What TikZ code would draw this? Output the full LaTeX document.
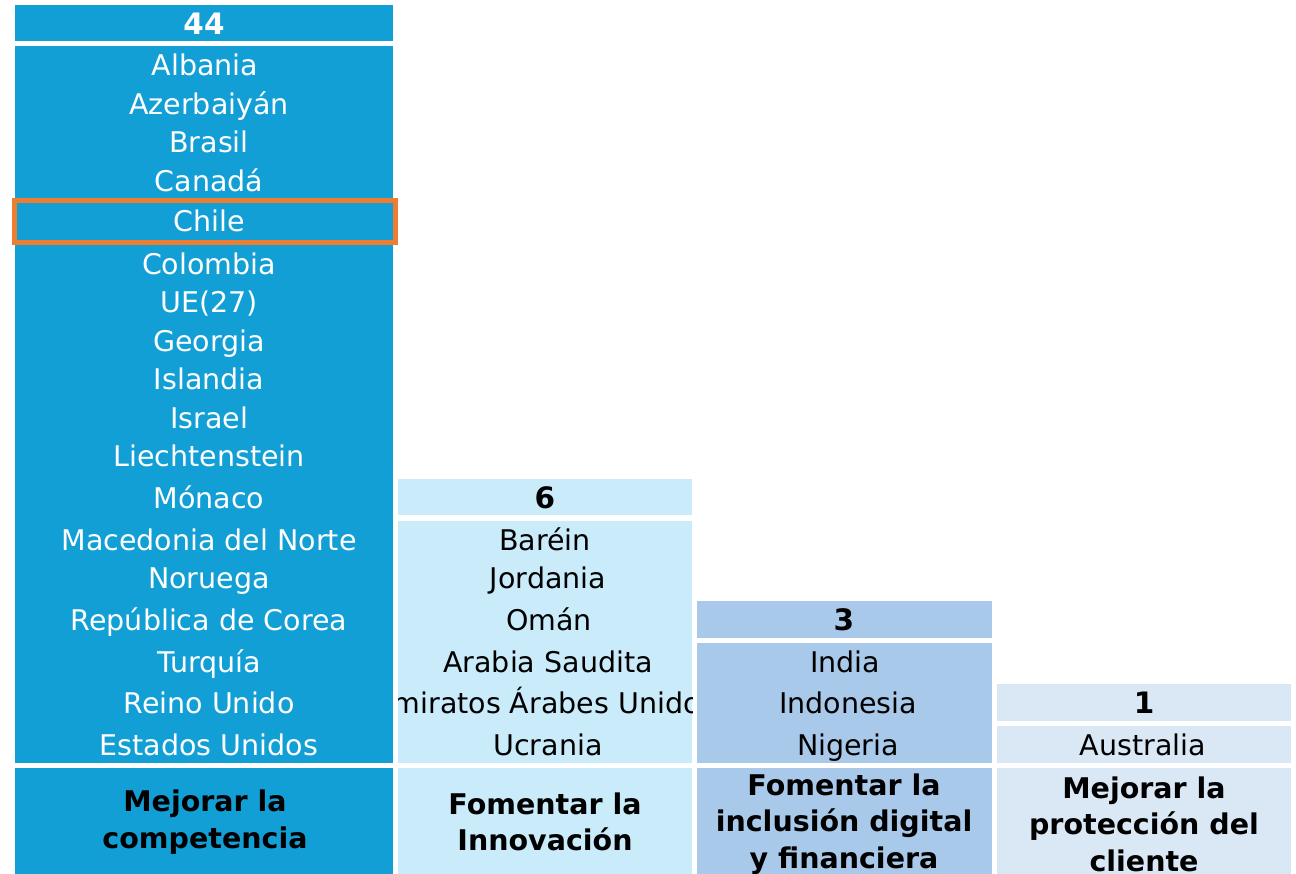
\documentclass[tikz,border=0pt]{standalone}
\usepackage{fontspec}
\setmainfont{DejaVu Sans}
\definecolor{cA}{RGB}{18,159,214}
\definecolor{cB}{RGB}{201,235,250}
\definecolor{cC}{RGB}{169,201,234}
\definecolor{cD}{RGB}{218,232,246}
\definecolor{cO}{RGB}{237,125,49}
\tikzset{
  lbl/.style={inner sep=0pt, font=\fontsize{28.5}{28.5}\selectfont, anchor=center},
  hdr/.style={inner sep=0pt, font=\fontsize{29.5}{29.5}\selectfont\bfseries, anchor=center},
  ttl/.style={inner sep=0pt, font=\fontsize{28.5}{36.5}\selectfont\bfseries, align=center, anchor=center}
}
\begin{document}
\begin{tikzpicture}[x=1pt,y=-1pt]
\useasboundingbox (0,0) rectangle (1296,873);
\clip (0,0) rectangle (1296,873);
% column 1
\fill[cA] (15,5) rectangle (393,41);
\fill[cA] (15,46) rectangle (393,763);
\fill[cA] (15,768) rectangle (393,880);
% column 2
\fill[cB] (398,479) rectangle (692,515);
\fill[cB] (398,521) rectangle (692,763);
\fill[cB] (398,768) rectangle (692,880);
% column 3
\fill[cC] (697,601) rectangle (992,638);
\fill[cC] (697,643) rectangle (992,763);
\fill[cC] (697,768) rectangle (992,880);
% column 4
\fill[cD] (997,684) rectangle (1291,721);
\fill[cD] (997,726) rectangle (1291,763);
\fill[cD] (997,768) rectangle (1291,880);

% headers
\node[hdr, text=white] (h1) at (204,24) {44};
\node[hdr] (h2) at (545,498) {6};
\node[hdr] (h3) at (844,620) {3};
\node[hdr] (h4) at (1144,703) {1};

% column 1 list
\begin{scope}[every node/.style={lbl, text=white}]
\node[anchor=base] (a1) at (205,75) {Albania};
\node[anchor=base] (a2) at (209,114) {Azerbaiyán};
\node[anchor=base] (a3) at (209,152) {Brasil};
\node[anchor=base] (a4) at (209,191) {Canadá};
\node[anchor=base] (a5) at (209,231) {Chile};
\node[anchor=base] (a6) at (209,274) {Colombia};
\node[anchor=base] (a7) at (209,312) {UE(27)};
\node[anchor=base] (a8) at (209,351) {Georgia};
\node[anchor=base] (a9) at (209,389) {Islandia};
\node[anchor=base] (a10) at (209,428) {Israel};
\node[anchor=base] (a11) at (209,466) {Liechtenstein};
\node[anchor=base] (a12) at (209,508) {Mónaco};
\node[anchor=base] (a13) at (209,550) {Macedonia del Norte};
\node[anchor=base] (a14) at (209,588) {Noruega};
\node[anchor=base] (a15) at (209,630) {República de Corea};
\node[anchor=base] (a16) at (209,672) {Turquía};
\node[anchor=base] (a17) at (209,713) {Reino Unido};
\node[anchor=base] (a18) at (209,755) {Estados Unidos};
\end{scope}
\draw[cO, line width=5pt] (14.7,200.8) rectangle (395.7,242.3);

% column 2 list
\begin{scope}[every node/.style={lbl, anchor=base}]
\node (b1) at (545,550) {Baréin};
\node (b2) at (548,588) {Jordania};
\node (b3) at (549,630) {Omán};
\node (b4) at (548,672) {Arabia Saudita};
\begin{scope}
\clip (398,680) rectangle (692,725);
\node (b5) at (545,713) {Emiratos Árabes Unidos};
\end{scope}
\node (b6) at (548,755) {Ucrania};
\end{scope}

% column 3 list
\begin{scope}[every node/.style={lbl, anchor=base}]
\node (c1) at (845,672) {India};
\node (c2) at (848,713) {Indonesia};
\node (c3) at (848,755) {Nigeria};
\end{scope}

% column 4 list
\node[lbl, anchor=base] (d1) at (1143,755) {Australia};

% titles
\node[ttl] (t1) at (205,822) {Mejorar la\\competencia};
\node[ttl] (t2) at (545,822) {Fomentar la\\Innovación};
\node[ttl] (t3) at (844,824) {Fomentar la\\inclusión digital\\y financiera};
\node[ttl] (t4) at (1144,824) {Mejorar la\\protección del\\cliente};
\end{tikzpicture}
\end{document}
